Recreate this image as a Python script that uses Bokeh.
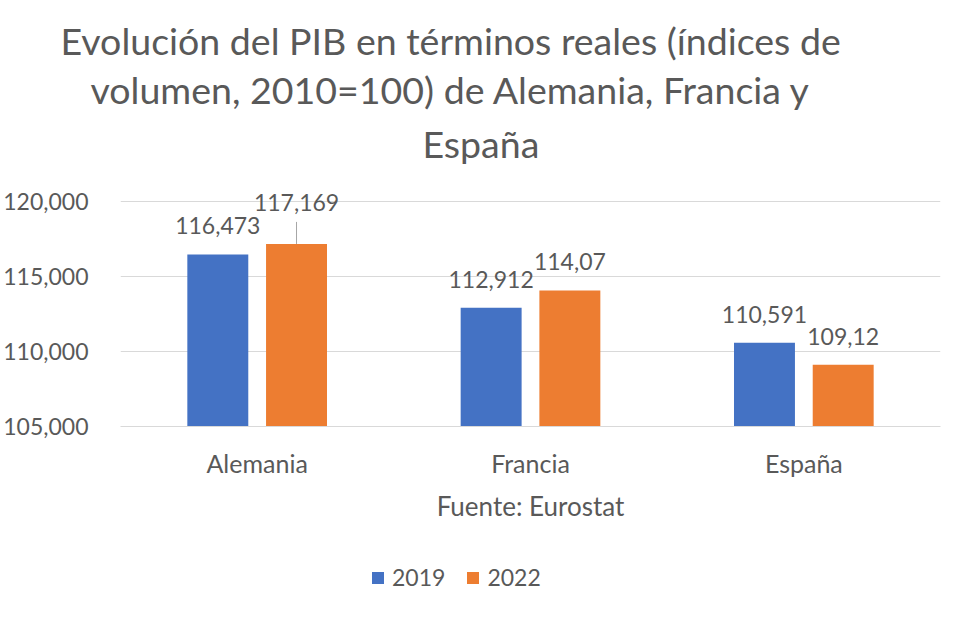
from bokeh.plotting import figure
from bokeh.models import (ColumnDataSource, FactorRange, Range1d, LabelSet, Title,
                          Legend, LegendItem, NumeralTickFormatter, FixedTicker)
from bokeh.core.properties import value
from bokeh.layouts import column
from bokeh.transform import dodge
from bokeh.embed import file_html
from bokeh.resources import INLINE

# ---- data ----
countries = ["Alemania", "Francia", "España"]
v2019 = [116473, 112912, 110591]
v2022 = [117169, 114070, 109120]
lab2019 = ["116,473", "112,912", "110,591"]
lab2022 = ["117,169", "114,07", "109,12"]
y_ticks = [105000, 110000, 115000, 120000]
title_lines = ["Evolución del PIB en términos reales (índices de",
               "volumen, 2010=100) de Alemania, Francia y",
               "España"]
x_title = "Fuente: Eurostat"
series = ["2019", "2022"]

FONT = "Lato"
TXT = "#595959"
BLUE = "#4472C4"
ORANGE = "#ED7D31"
GRID = "#D9D9D9"

# label offsets (pixels) – the 2022 Alemania label is lifted with a leader line
off2022 = [33, 20, 20]
off2019 = [20, 20, 20]
title_offsets = [-60, -30, 302]
title_standoffs = [2, 2, 12]

src = ColumnDataSource(dict(c=countries, v19=v2019, v22=v2022, l19=lab2019, l22=lab2022,
                            o19=off2019, o22=off2022))

p = figure(x_range=FactorRange(*countries), y_range=Range1d(105000, 122000),
           width=955, height=545, output_backend="svg", toolbar_location=None,
           min_border_left=118, min_border_right=15, min_border_top=171,
           min_border_bottom=119, outline_line_color=None)
p.title.visible = False

for t, off, so in reversed(list(zip(title_lines, title_offsets, title_standoffs))):
    p.add_layout(Title(text=t, align="left", offset=off, text_font=FONT,
                       text_font_size="37.5px", text_font_style="normal",
                       text_color=TXT, standoff=so), "above")

r19 = p.vbar(x=dodge("c", -0.144, range=p.x_range), top="v19", bottom=105000, width=0.223,
             source=src, color=BLUE, line_color=None)
r22 = p.vbar(x=dodge("c", 0.144, range=p.x_range), top="v22", bottom=105000, width=0.223,
             source=src, color=ORANGE, line_color=None)

# leader line for the lifted label
lead = ColumnDataSource(dict(c=[countries[0]], y0=[v2022[0]], y1=[v2022[0] + 1470]))
p.segment(x0=dodge("c", 0.144, range=p.x_range), x1=dodge("c", 0.144, range=p.x_range),
          y0="y0", y1="y1", source=lead, line_color="#A6A6A6", line_width=1)

for col, lab, off, dx in (("v19", "l19", "o19", -0.144), ("v22", "l22", "o22", 0.144)):
    p.add_layout(LabelSet(x=dodge("c", dx, range=p.x_range), y=col, text=lab, source=src,
                          y_offset=off, text_align="center", text_baseline="alphabetic",
                          text_font=value(FONT), text_font_size=value("23px"),
                          text_color=TXT))

p.yaxis.ticker = FixedTicker(ticks=y_ticks)
p.yaxis.formatter = NumeralTickFormatter(format="0,000")
p.yaxis.axis_line_color = None
p.yaxis.major_tick_line_color = None
p.yaxis.minor_tick_line_color = None
p.yaxis.major_label_standoff = 26
p.yaxis.major_label_text_font = FONT
p.yaxis.major_label_text_font_size = "23px"
p.yaxis.major_label_text_color = TXT

p.xaxis.axis_line_color = GRID
p.xaxis.major_tick_line_color = None
p.xaxis.minor_tick_line_color = None
p.xaxis.major_label_standoff = 15
p.xaxis.major_label_text_font = FONT
p.xaxis.major_label_text_font_size = "25px"
p.xaxis.major_label_text_color = TXT
p.xaxis.axis_label = x_title
p.xaxis.axis_label_standoff = 9
p.xaxis.axis_label_text_font = FONT
p.xaxis.axis_label_text_font_size = "26px"
p.xaxis.axis_label_text_font_style = "normal"
p.xaxis.axis_label_text_color = TXT

p.xgrid.grid_line_color = None
p.ygrid.grid_line_color = GRID
p.ygrid.ticker = FixedTicker(ticks=y_ticks)

# ---- legend strip below the chart (swatch glyphs lie outside its visible range) ----
p2 = figure(width=955, height=55, output_backend="svg", toolbar_location=None,
            x_range=Range1d(0, 1), y_range=Range1d(0, 1), min_border=0,
            x_axis_location=None, y_axis_location=None, outline_line_color=None)
p2.grid.visible = False
k19 = p2.vbar(x=[-10], top=[-10], bottom=[-11], width=0.1, color=BLUE, line_color=None)
k22 = p2.vbar(x=[-10], top=[-10], bottom=[-11], width=0.1, color=ORANGE, line_color=None)
legend = Legend(items=[LegendItem(label=series[0], renderers=[k19]),
                       LegendItem(label=series[1], renderers=[k22])],
                orientation="horizontal", location=(250, 9), border_line_color=None,
                background_fill_alpha=0, label_text_font=FONT, label_text_font_size="23px",
                label_text_color=TXT, glyph_width=15, glyph_height=15, spacing=20,
                label_standoff=7, margin=0, padding=4)
p2.add_layout(legend, "center")

open("out.html", "w").write(file_html(column(p, p2), INLINE))
